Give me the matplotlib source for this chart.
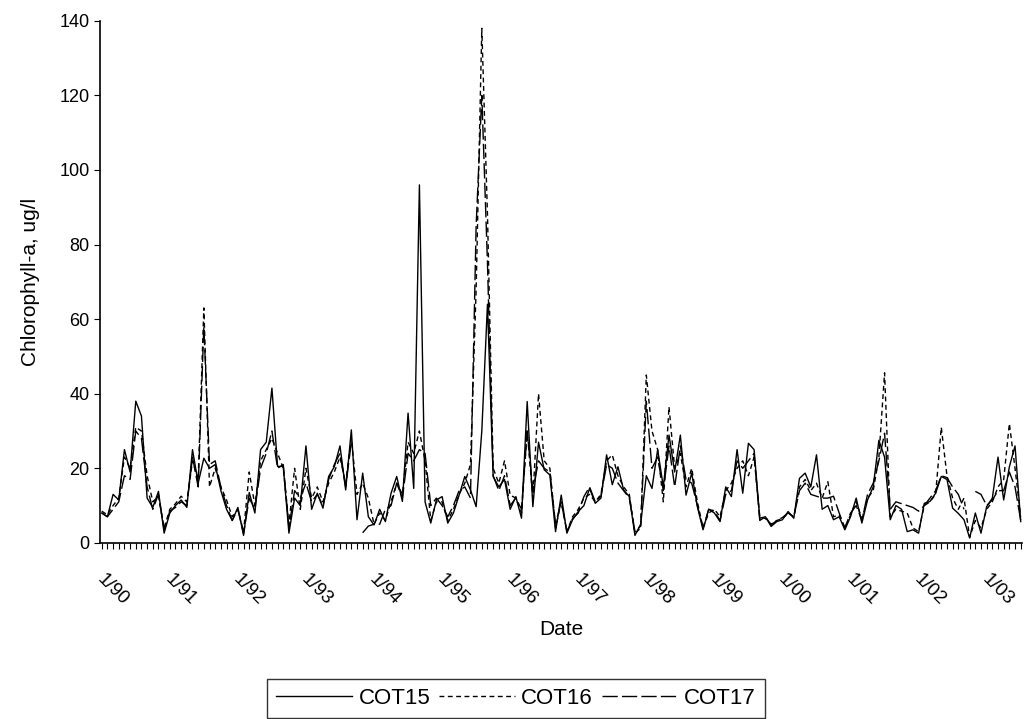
import numpy as np
import matplotlib
matplotlib.use("Agg")
import matplotlib.pyplot as plt
import matplotlib.transforms as mtransforms

plt.rcParams['font.family'] = ['Liberation Sans', 'DejaVu Sans']

# monthly values, Jan 1990 .. Jul 2003
cot15 = [8, 7, 13, 11.5, 25, 19, 38, 34, 12, 9.5, 13.8, 2.6,
         8, 10, 11.5, 9.5, 25, 16, 22.7, 20, 21, 14, 9, 6,
         9.5, 2, 13.5, 8, 25, 27, 41.5, 20.5, 20.5, 2.6, 12, 10,
         26, 9, 13.3, 9.3, 17.8, 20.4, 26, 14.2, 30.3, 6.2, 18.7, 7,
         4.8, 9, 5.7, 13.3, 17.8, 11.1, 34.8, 14.6, 96, 11, 5.3, 11.5,
         12.4, 5.3, 8, 12.8, 17.8, 14.2, 9.7, 30, 64, 17.8, 15, 17,
         9, 12.4, 6.6, 37.9, 9.7, 27, 19.6, 18.2, 3, 12.8, 2.6, 6.2,
         8.4, 10, 14.6, 10.6, 12, 23.6, 15.6, 20.4, 14.2, 12.4, 2, 5,
         18, 14.6, 25, 15, 28.9, 19, 28.9, 12.8, 18.7, 9.7, 3.5, 9,
         8, 5.7, 15, 12.4, 25, 13.3, 26.7, 25, 6.6, 7, 4.4, 5.7,
         6.2, 8.4, 6.6, 17.3, 18.7, 15, 23.6, 9, 10, 6.2, 7, 3.5,
         7, 12, 5.3, 11.5, 15, 27.5, 23, 6.2, 10, 9, 3, 3.5,
         2.6, 10.6, 11.1, 13.3, 17.8, 17, 9.3, 7.9, 6.2, 1.3, 8, 2.6,
         9.7, 12, 23, 11.5, 20.4, 26, 5.7]

cot16 = [8.5, 7.5, 10, 12, 23, 20, 31, 30, 18, 11, 12.5, 4,
         9, 10.5, 12.5, 11, 22, 17, 63, 15, 20, 15, 11.5, 7,
         9, 3, 19, 10, 22, 25, 28, 24, 20, 5, 20, 9,
         20, 12, 15, 11, 16, 19, 23, 16, 28, 13, 16, 12,
         5, 8, 6, 11, 16, 13, 27, 24, 30, 22, 6, 11,
         11, 6, 9, 13, 16, 21, 68, 138, 88, 20, 16, 22,
         12.8, 12, 8, 30, 12, 40, 22, 20, 4, 11, 3, 7,
         9, 12, 13, 11, 13, 22, 23.6, 18, 15, 13, 2.5, 4,
         45, 30, 25, 11, 36.5, 20, 24, 15, 20, 11, 4, 8,
         9, 7, 14, 16, 20, 22, 18, 23, 7, 6.5, 5, 6,
         6.5, 8, 7, 15, 17, 14, 16, 12, 16.4, 7, 7.5, 4,
         7.5, 11, 6.5, 12, 14, 23, 45.6, 7, 9, 8.5, 8, 4,
         3, 10, 11, 13, 31, 18, 12, 9, 12, 1.5, 6, 4,
         9, 11, 15, 17, 32, 20, 7]

cot17 = [8, 7, 9, 11, 18, 17, 30, 28, 15, 9, 13, 3.5,
         8.5, 9.5, 11, 10, 23, 15, 58, 21, 22, 15, 10, 6,
         9, 2.5, 12, 9, 20, 24, 30, 20, 21, 4, 14, 12,
         16, 11, 13, 10, 17, 21, 24, 15, 27, np.nan, 2.7, 4.5,
         5, 5, 9, 10, 16, 12, 24, 22, 25, 24, 10, 12,
         10, 7, 10, 14, 15, 12, 85, 120, 75, 18, 14, 18,
         10, 12, 9, 30, 14, 22, 20, 19, 5, 11, 3, 6.5,
         8, 12.4, 15, 11, 12.5, 21, 20, 16, 14, 12, 3, 4.5,
         38, 20, 23, 14, 26, 15, 26, 17, 16, 10, 4, 9,
         8.5, 6, 13, 14, 22, 20, 22, 24, 6, 7, 4.8, 6,
         6.8, 8, 7, 14, 16, 13, 12.5, 12, 12, 12.5, 8, 4,
         8, 10, 6, 13, 16, 22, 29.4, 9, 11, 10.5, 10, 9.5,
         8.5, 10, 12, 14, 18, 17.5, 15, 13, 9, np.nan, 13.8, 13,
         10, 11.5, 14, 14, 19, 15, 6]

year_labels = ['1/90', '1/91', '1/92', '1/93', '1/94', '1/95', '1/96',
               '1/97', '1/98', '1/99', '1/00', '1/01', '1/02', '1/03']

months = np.arange(len(cot15))

fig = plt.figure(figsize=(10.26, 7.19), dpi=100)
ax = fig.add_axes([0.0975, 0.245, 0.899, 0.726])

ax.plot(months, cot15, color='black', lw=1.0, linestyle='-', label='COT15')
ax.plot(months, cot16, color='black', lw=1.0, linestyle=(0, (3.5, 2.5)), label='COT16')
ax.plot(months, cot17, color='black', lw=1.0, linestyle=(0, (11, 3)), label='COT17')

ax.set_xlim(-0.3, len(cot15) - 0.7)
ax.set_ylim(0, 140)
ax.set_yticks(range(0, 141, 20))
ax.set_xticks(np.arange(0, len(cot15), 12))
ax.set_xticklabels(year_labels, rotation=-45, ha='left', va='top',
                   rotation_mode='anchor', fontsize=13.5)
ax.set_xticks(months, minor=True)
ax.tick_params(axis='x', which='both', direction='out', length=4, width=0.8, pad=16)
ax.tick_params(axis='y', direction='out', length=4, width=0.8, labelsize=13)

offset = mtransforms.ScaledTranslation(3 / 72, 0, fig.dpi_scale_trans)
for lab in ax.get_xticklabels():
    lab.set_transform(lab.get_transform() + offset)

ax.spines['top'].set_visible(False)
ax.spines['right'].set_visible(False)
ax.spines['left'].set_linewidth(1.2)
ax.spines['bottom'].set_linewidth(1.2)

ax.set_xlabel('Date', fontsize=15, labelpad=8)
ax.set_ylabel('Chlorophyll-a, ug/l', fontsize=15, labelpad=14)

leg = fig.legend(loc='upper center', bbox_to_anchor=(0.503, 0.056), ncol=3,
                 fontsize=16, frameon=True, fancybox=False, handlelength=3.4,
                 handletextpad=0.3, columnspacing=0.4, borderpad=0.4,
                 borderaxespad=0)
leg.get_frame().set_edgecolor('black')
leg.get_frame().set_linewidth(1.0)

fig.savefig('out.png', dpi=100)
